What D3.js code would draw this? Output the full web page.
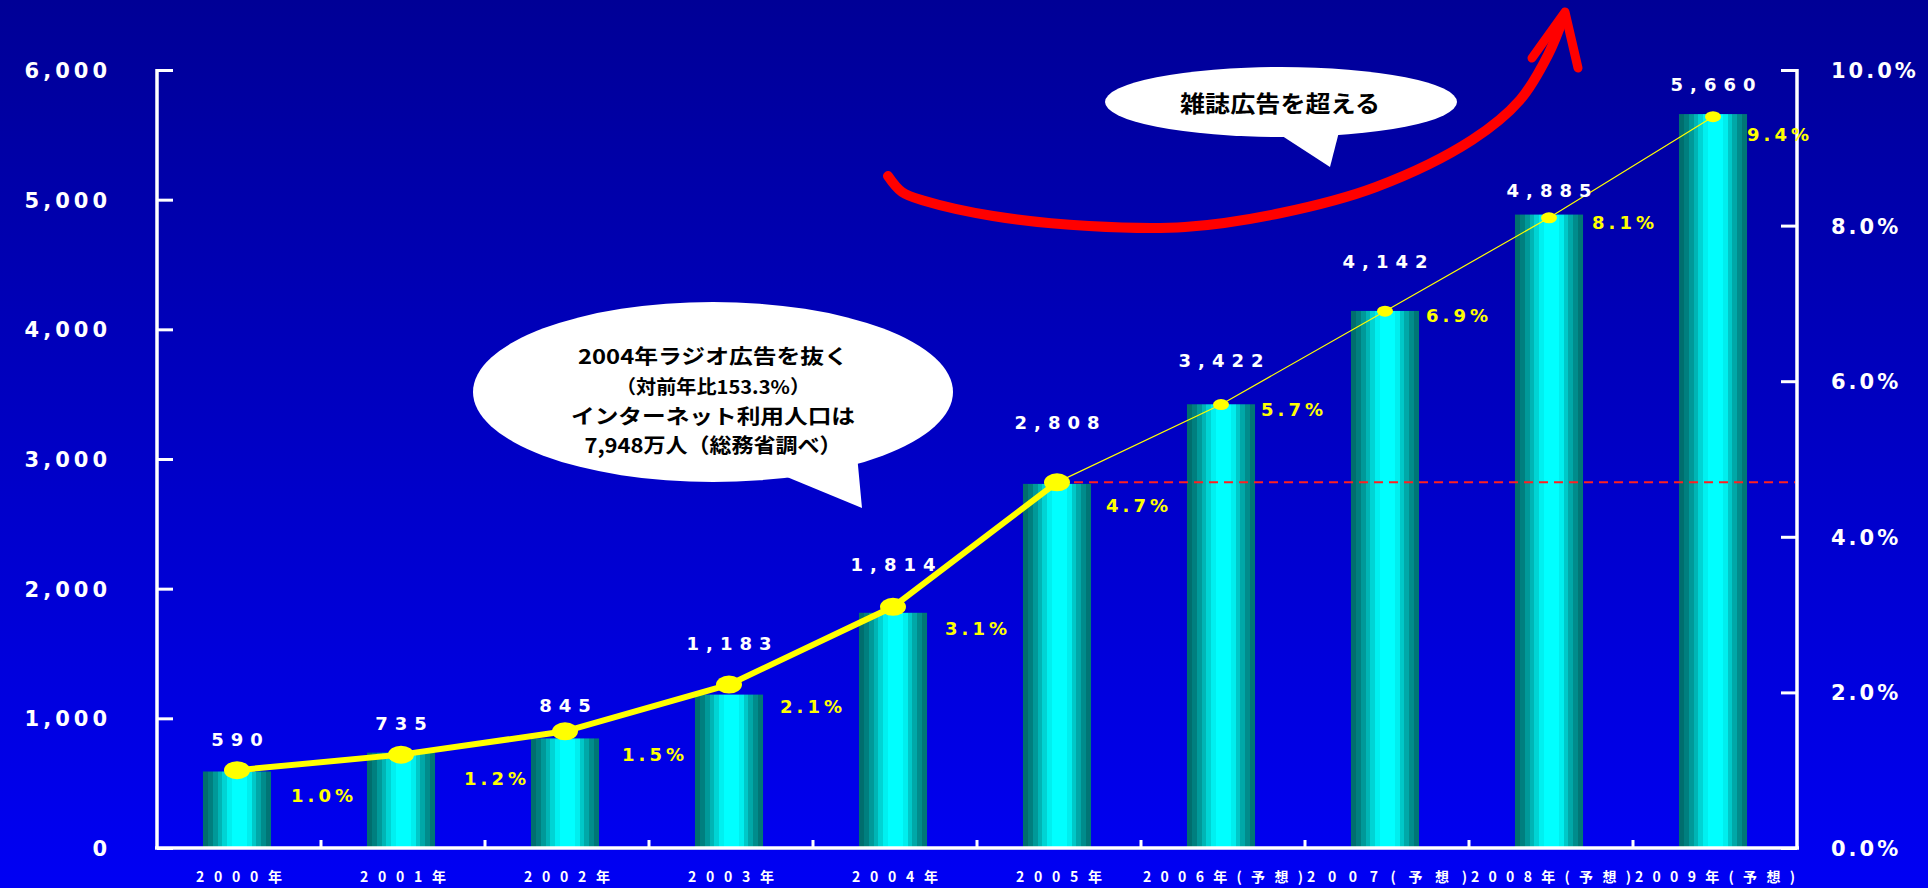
<!DOCTYPE html>
<html><head><meta charset="utf-8">
<script src="https://cdn.jsdelivr.net/npm/d3@7"></script>
<style>html,body{margin:0;padding:0;background:#0000c0;overflow:hidden}</style>
</head><body>
<svg id="c" width="1928" height="888"></svg>
<script>
// ---- data ----
const years = ["2000年","2001年","2002年","2003年","2004年","2005年","2006年(予想)","2007(予想)","2008年(予想)","2009年(予想)"];
const adSpend = [590, 735, 845, 1183, 1814, 2808, 3422, 4142, 4885, 5660];
const sharePct = [1.0, 1.2, 1.5, 2.1, 3.1, 4.7, 5.7, 6.9, 8.1, 9.4];
const leftTicks = [0, 1000, 2000, 3000, 4000, 5000, 6000];
const rightTicks = [0, 2, 4, 6, 8, 10];
const bubble1Lines = ["2004年ラジオ広告を抜く", "（対前年比153.3%）", "インターネット利用人口は", "7,948万人（総務省調べ）"];
const bubble2Text = "雑誌広告を超える";

// ---- layout tweaks (label offsets) ----
const valueLift = [32, 30, 33, 52, 49, 62, 44, 50, 25, 30];
const pctDx = [83, 92, 86, 80, 81, 78, 69, 70, 72, 63];
const pctDy = [25, 23, 23, 21, 21, 23, 4, 4, 4, 17];

const W = 1928, H = 888;
const svg = d3.select("#c");
const defs = svg.append("defs");

const bg = defs.append("linearGradient").attr("id","bg").attr("x1",0).attr("y1",0).attr("x2",0).attr("y2",1);
bg.append("stop").attr("offset","0%").attr("stop-color","#000096");
bg.append("stop").attr("offset","100%").attr("stop-color","#0000f4");

const bar = defs.append("linearGradient").attr("id","bar").attr("x1",0).attr("y1",0).attr("x2",1).attr("y2",0);
const stripes = ["#006e6e","#007f7f","#009999","#00b5b5","#00d4d4","#00f0f0","#00ffff","#00ffff","#00ffff","#00eeee","#00c8c8","#00a8a8","#008c8c","#007676"];
stripes.forEach((c,i)=>{
  bar.append("stop").attr("offset",(i/stripes.length*100)+"%").attr("stop-color",c);
  bar.append("stop").attr("offset",((i+1)/stripes.length*100)+"%").attr("stop-color",c);
});

svg.append("rect").attr("width",W).attr("height",H).attr("fill","url(#bg)");

const x0 = 157, x1 = 1797, yTop = 70, yBot = 848;
const x = d3.scaleBand().domain(years).range([x0, x1]).padding(0);
const yL = d3.scaleLinear().domain([0, 6000]).range([yBot, yTop]);
const yR = d3.scaleLinear().domain([0, 10]).range([yBot, yTop]);
const cx = d => x(d) + x.bandwidth()/2;
const bw = x.bandwidth()*0.415;

// bars
svg.append("g").selectAll("rect").data(years).join("rect")
  .attr("x", d => cx(d) - bw/2 - 2)
  .attr("width", bw)
  .attr("y", (d,i) => yL(adSpend[i]))
  .attr("height", (d,i) => yBot - yL(adSpend[i]))
  .attr("fill","url(#bar)");

// axes
const axisStyle = g => {
  g.select(".domain").remove();
  g.selectAll("line").attr("stroke","#fff").attr("stroke-width",3);
};
svg.append("g").attr("transform",`translate(${x0},0)`)
  .call(d3.axisRight(yL).tickValues(leftTicks).tickSize(16).tickFormat(""))
  .call(axisStyle);
svg.append("g").attr("transform",`translate(${x1},0)`)
  .call(d3.axisLeft(yR).tickValues(rightTicks).tickSize(16).tickFormat(""))
  .call(axisStyle);
svg.append("line").attr("x1",x0).attr("x2",x0).attr("y1",yTop-1).attr("y2",yBot+1).attr("stroke","#fff").attr("stroke-width",3.5);
svg.append("line").attr("x1",x1).attr("x2",x1).attr("y1",yTop-1).attr("y2",yBot+1).attr("stroke","#fff").attr("stroke-width",3.5);
svg.append("line").attr("x1",x0-2).attr("x2",x1+2).attr("y1",yBot).attr("y2",yBot).attr("stroke","#fff").attr("stroke-width",3.5);
// category boundary ticks
svg.append("g").selectAll("line").data(years.slice(1)).join("line")
  .attr("x1", d => x(d)).attr("x2", d => x(d))
  .attr("y1", yBot).attr("y2", yBot-8)
  .attr("stroke","#fff").attr("stroke-width",3);

const numFont = "'DejaVu Sans', Verdana, sans-serif";
// left labels
const lsp = 4;
svg.append("g").selectAll("text").data(leftTicks).join("text")
  .attr("x", 107 + lsp).attr("y", d => yL(d) + 8)
  .attr("text-anchor","end").attr("fill","#fff")
  .attr("font-family",numFont).attr("font-weight","bold").attr("font-size",21)
  .attr("letter-spacing",lsp)
  .text(d3.format(","));
// right labels
svg.append("g").selectAll("text").data(rightTicks).join("text")
  .attr("x", 1831).attr("y", d => yR(d) + 8)
  .attr("fill","#fff")
  .attr("font-family",numFont).attr("font-weight","bold").attr("font-size",21)
  .attr("letter-spacing",3)
  .text(d => d3.format(".1f")(d) + "%");
// category labels
svg.append("g").selectAll("text").data(years).join("text")
  .attr("x", d => cx(d) - (d.length > 5 ? 80 : 43)).attr("y", 882)
  .attr("fill","#fff")
  .attr("font-family","'Noto Sans CJK JP', sans-serif").attr("font-weight","bold").attr("font-size",14)
  .attr("textLength", d => d.length > 5 ? 160 : 86).attr("lengthAdjust","spacing")
  .text(d => d);

// red dashed reference line from 2005 share
const i05 = 5;
svg.append("line").attr("x1", cx(years[i05])).attr("x2", x1 - 2)
  .attr("y1", yR(sharePct[i05])).attr("y2", yR(sharePct[i05]))
  .attr("stroke","#ff2020").attr("stroke-width",2).attr("stroke-dasharray","9,6");

// share line
const pts = years.map((d,i) => [cx(d) - 2, yR(sharePct[i])]);
const line = d3.line();
svg.append("path").attr("d", line(pts.slice(5))).attr("fill","none").attr("stroke","#ffff00").attr("stroke-width",1.2);
svg.append("path").attr("d", line(pts.slice(0,6))).attr("fill","none").attr("stroke","#ffff00").attr("stroke-width",6);
svg.append("g").selectAll("ellipse").data(pts).join("ellipse")
  .attr("cx", d => d[0]).attr("cy", d => d[1])
  .attr("rx", (d,i) => i <= 5 ? 13 : 8).attr("ry", (d,i) => i <= 5 ? 9 : 5.5)
  .attr("fill","#ffff00");

// value labels
const vsp = 7;
svg.append("g").selectAll("text").data(years).join("text")
  .attr("x", d => cx(d) - 2 + vsp/2).attr("y", (d,i) => yL(adSpend[i]) - valueLift[i] + 7)
  .attr("text-anchor","middle").attr("fill","#fff")
  .attr("font-family",numFont).attr("font-weight","bold").attr("font-size",18)
  .attr("letter-spacing",vsp)
  .text((d,i) => d3.format(",")(adSpend[i]));
// share labels
svg.append("g").selectAll("text").data(years).join("text")
  .attr("x", (d,i) => cx(d) + pctDx[i] + 2).attr("y", (d,i) => yR(sharePct[i]) + pctDy[i] + 7)
  .attr("text-anchor","middle").attr("fill","#ffff00")
  .attr("font-family",numFont).attr("font-weight","bold").attr("font-size",18)
  .attr("letter-spacing",4)
  .text((d,i) => d3.format(".1f")(sharePct[i]) + "%");

// bubble 1
const b1 = svg.append("g");
b1.append("ellipse").attr("cx",713).attr("cy",392).attr("rx",240).attr("ry",90).attr("fill","#fff");
b1.append("path").attr("d","M770,470 L857,455 L862,508 Z").attr("fill","#fff");
const b1Widths = [270, 194, 284, 257];
b1.selectAll("text").data(bubble1Lines).join("text")
  .attr("x",(d,i)=>713 - b1Widths[i]/2).attr("y",(d,i)=>[364,394,424,453][i])
  .attr("fill","#000")
  .attr("font-family","'Noto Sans CJK JP', sans-serif").attr("font-weight","bold")
  .attr("font-size",(d,i)=> i===1 ? 19 : 20.5)
  .attr("textLength",(d,i)=>b1Widths[i]).attr("lengthAdjust","spacingAndGlyphs")
  .text(d=>d);

// red arrow
const arrowPts = [[888,176],[902,192],[925,201],[993,216],[1089,226],[1185,227],[1281,213],[1376,187],[1472,140],[1520,100],[1548,55],[1564,16]];
svg.append("path").attr("d", d3.line().curve(d3.curveCatmullRom)(arrowPts))
  .attr("fill","none").attr("stroke","#ff0000").attr("stroke-width",10).attr("stroke-linecap","round");
svg.append("path").attr("d","M1532,58 L1565,12 L1578,68")
  .attr("fill","none").attr("stroke","#ff0000").attr("stroke-width",9).attr("stroke-linecap","round").attr("stroke-linejoin","round");

// bubble 2
const b2 = svg.append("g");
b2.append("ellipse").attr("cx",1281).attr("cy",102).attr("rx",176).attr("ry",35).attr("fill","#fff");
b2.append("path").attr("d","M1273,130 L1340,128 L1330,167 Z").attr("fill","#fff");
b2.append("text").attr("x",1180).attr("y",112).attr("fill","#000")
  .attr("font-family","'Noto Sans CJK JP', sans-serif").attr("font-weight","bold").attr("font-size",23)
  .attr("textLength",200).attr("lengthAdjust","spacingAndGlyphs")
  .text(bubble2Text);
</script>
</body></html>
